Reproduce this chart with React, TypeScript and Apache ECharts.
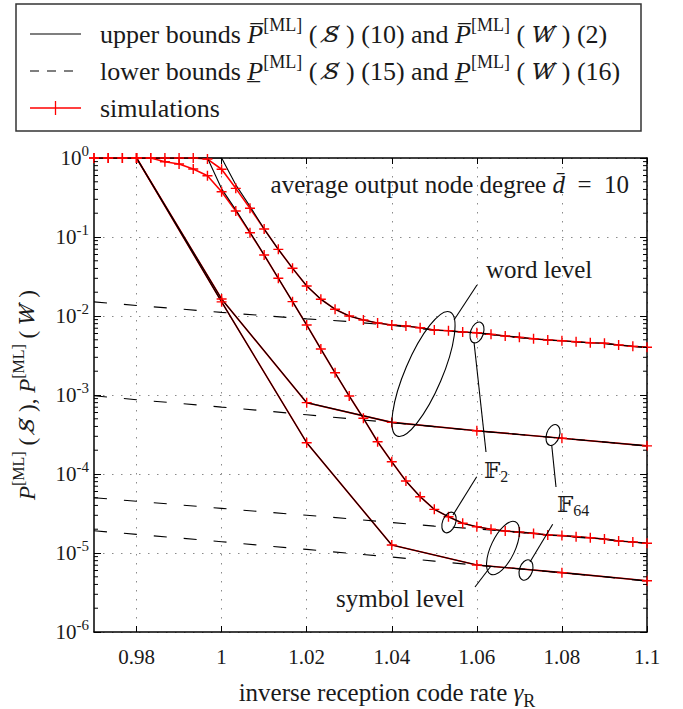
import React, { useEffect, useRef } from "react";
import * as echarts from "echarts";

// ---------------- data ----------------
const X_MIN = 0.97;
const X_MAX = 1.1;
const X_TICKS = [0.98, 1, 1.02, 1.04, 1.06, 1.08, 1.1];
const Y_MIN = 1e-6;
const Y_MAX = 1;

// GF(2): fine grid of inverse reception code rates
const F2_X = [
  0.97, 0.97333, 0.97667, 0.98, 0.98333, 0.98667, 0.99, 0.99333, 0.99667, 1.0,
  1.00333, 1.00667, 1.01, 1.01333, 1.01667, 1.02, 1.02333, 1.02667, 1.03, 1.03333,
  1.03667, 1.04, 1.04333, 1.04667, 1.05, 1.05333, 1.05667, 1.06, 1.06333, 1.06667,
  1.07, 1.07333, 1.07667, 1.08, 1.08333, 1.08667, 1.09, 1.09333, 1.09667, 1.1,
];
const F2_WORD_SIM = [
  1, 1, 1, 1, 1, 1, 1, 1, 0.97, 0.72,
  0.413, 0.231, 0.126, 0.0698, 0.0402, 0.024, 0.0163, 0.0122, 0.01, 0.00889,
  0.00815, 0.00769, 0.00746, 0.00711, 0.00665, 0.00652, 0.00627, 0.00615, 0.00586, 0.00558,
  0.00537, 0.00516, 0.00497, 0.00486, 0.00473, 0.00459, 0.00451, 0.0043, 0.00413, 0.00402,
];
const F2_WORD_UB = [
  1, 1, 1, 1, 1, 1, 1, 1, 1, 1,
  0.457, 0.245, 0.126, 0.0698, 0.0402, 0.024, 0.0163, 0.0122, 0.01, 0.00889,
  0.00815, 0.00769, 0.00746, 0.00711, 0.00665, 0.00652, 0.00627, 0.00615, 0.00586, 0.00558,
  0.00537, 0.00516, 0.00497, 0.00486, 0.00473, 0.00459, 0.00451, 0.0043, 0.00413, 0.00402,
];
const F2_SYM_SIM = [
  1, 1, 1, 1, 1, 0.897, 0.839, 0.726, 0.596, 0.374,
  0.213, 0.113, 0.0592, 0.03, 0.0152, 0.0077, 0.00382, 0.00191, 9.7e-4, 5.07e-4,
  2.56e-4, 1.43e-4, 8.15e-5, 5.16e-5, 3.57e-5, 2.88e-5, 2.38e-5, 2.15e-5, 2.0e-5, 1.9e-5,
  1.84e-5, 1.77e-5, 1.69e-5, 1.66e-5, 1.61e-5, 1.56e-5, 1.5e-5, 1.42e-5, 1.38e-5, 1.33e-5,
];
const F2_SYM_UB = [
  1, 1, 1, 1, 1, 1, 1, 1, 1, 0.407,
  0.221, 0.115, 0.0592, 0.03, 0.0152, 0.0077, 0.00382, 0.00191, 9.7e-4, 5.07e-4,
  2.56e-4, 1.43e-4, 8.15e-5, 5.16e-5, 3.57e-5, 2.88e-5, 2.38e-5, 2.15e-5, 2.0e-5, 1.9e-5,
  1.84e-5, 1.77e-5, 1.69e-5, 1.66e-5, 1.61e-5, 1.56e-5, 1.5e-5, 1.42e-5, 1.38e-5, 1.33e-5,
];

// GF(64): coarse grid
const F64_X = [0.98, 1.0, 1.02, 1.04, 1.06, 1.08, 1.1];
const F64_WORD = [1, 0.0164, 8.0e-4, 4.5e-4, 3.53e-4, 2.84e-4, 2.27e-4];
const F64_SYM = [1, 0.0151, 2.49e-4, 1.26e-5, 7.05e-6, 5.64e-6, 4.46e-6];

// lower bounds
const LB_X = [0.97, 0.98, 0.99, 1.0, 1.01, 1.02, 1.03, 1.04, 1.05, 1.06, 1.07, 1.08, 1.09, 1.1];
const LB_F2_WORD = [1.51e-2, 1.36e-2, 1.23e-2, 1.11e-2, 1.01e-2, 9.2e-3, 8.5e-3, 7.6e-3, 6.6e-3, 6.1e-3, 5.33e-3, 4.83e-3, 4.47e-3, 3.98e-3];
const LB_F64_WORD = [9.77e-4, 8.71e-4, 7.85e-4, 7.03e-4, 6.31e-4, 5.62e-4, 5.01e-4, 4.47e-4, 3.98e-4, 3.51e-4, 3.16e-4, 2.83e-4, 2.54e-4, 2.26e-4];
const LB_F2_SYM = [5.01e-5, 4.52e-5, 4.07e-5, 3.67e-5, 3.31e-5, 3.0e-5, 2.72e-5, 2.43e-5, 2.19e-5, 2.02e-5, 1.82e-5, 1.64e-5, 1.49e-5, 1.32e-5];
const LB_F64_SYM = [1.91e-5, 1.72e-5, 1.55e-5, 1.39e-5, 1.24e-5, 1.11e-5, 9.9e-6, 8.9e-6, 7.9e-6, 7.0e-6, 6.3e-6, 5.6e-6, 5.0e-6, 4.4e-6];

const MINOR_MANTISSAS = [2, 3, 4, 5, 6, 7, 8, 9];
const DECADES = [-6, -5, -4, -3, -2, -1];

// ---------------- styling ----------------
const SERIF = "Liberation Serif";
const DJ = "DejaVu Serif";
const TXT = "#1a1a1a";
const RED = "#ff0000";
const PLUS = "path://M0,5L10,5M5,0L5,10";

const zip = (xs: number[], ys: number[]) => xs.map((x, i) => [x, ys[i]]);

const tok = (fs: number, italic: boolean, va: string, lh: number, fam = SERIF) => ({
  fontSize: fs,
  fontFamily: fam,
  fontStyle: italic ? "italic" : "normal",
  fontWeight: "normal",
  fill: TXT,
  verticalAlign: va,
  lineHeight: lh,
});

const baseRich = (fs: number) => ({
  n: tok(fs, false, "middle", fs + 10),
  p: tok(fs, true, "middle", fs + 10),
  x: tok(Math.round(fs * 0.9), true, "middle", fs + 10, DJ),
  s: tok(Math.round(fs * 0.7), false, "top", fs + 10),
  u: tok(Math.round(fs * 0.7), false, "bottom", fs + 6),
  f: tok(fs, false, "middle", fs + 6, DJ),
});

function lineSeries(data: number[][], color: string, width: number, z: number, dashed = false) {
  return {
    type: "line",
    data,
    showSymbol: false,
    symbol: "none",
    silent: true,
    z,
    lineStyle: { color, width, type: dashed ? [13, 17] : "solid" },
    itemStyle: { color },
  };
}

function markerSeries(data: number[][]) {
  return {
    type: "scatter",
    data,
    symbol: PLUS,
    symbolSize: 10,
    silent: true,
    z: 5,
    itemStyle: { color: "none", borderColor: RED, borderWidth: 1.4, opacity: 1 },
  };
}

function ellipse(cx: number, cy: number, rx: number, ry: number, rot: number) {
  return {
    type: "ellipse",
    x: cx,
    y: cy,
    rotation: rot,
    shape: { cx: 0, cy: 0, rx, ry },
    style: { fill: "none", stroke: "#000", lineWidth: 1.1 },
    z: 50,
  };
}
function seg(x1: number, y1: number, x2: number, y2: number, extra: any = {}) {
  return {
    type: "line",
    shape: { x1, y1, x2, y2 },
    style: { stroke: "#000", lineWidth: 1.1, ...extra },
    z: 50,
  };
}
function label(x: number, y: number, text: string, fs: number, align = "left", rot = 0) {
  return {
    type: "text",
    x,
    y,
    rotation: rot,
    z: 60,
    style: {
      text,
      align,
      verticalAlign: "middle",
      rich: baseRich(fs),
      fontFamily: SERIF,
      fontSize: fs,
      fill: TXT,
    },
  };
}

export default function App() {
  const ref = useRef<HTMLDivElement>(null);

  useEffect(() => {
    if (!ref.current) return;
    const chart = echarts.init(ref.current, undefined, { renderer: "svg" });

    const minorTicks: number[][] = [];
    DECADES.forEach((d) => MINOR_MANTISSAS.forEach((m) => minorTicks.push([X_MIN, m * Math.pow(10, d)])));

    const xCommon = {
      type: "value",
      min: X_MIN,
      max: X_MAX,
      axisLine: { show: true, onZero: false, lineStyle: { color: "#000", width: 1.5 } },
      axisTick: { show: true, inside: true, length: 6, customValues: X_TICKS, lineStyle: { color: "#000", width: 1 } },
    };
    const yCommon = {
      type: "log",
      logBase: 10,
      min: Y_MIN,
      max: Y_MAX,
      interval: 1,
      axisLine: { show: true, onZero: false, lineStyle: { color: "#000", width: 1.5 } },
      axisTick: { show: true, inside: true, length: 7, lineStyle: { color: "#000", width: 1 } },
      minorTick: { show: false },
    };

    const option: any = {
      animation: false,
      backgroundColor: "#fff",
      textStyle: { fontFamily: SERIF },
      grid: { left: 94, top: 158, width: 553, height: 474, containLabel: false },
      xAxis: [
        {
          ...xCommon,
          position: "bottom",
          axisLabel: {
            show: true,
            customValues: X_TICKS,
            margin: 14,
            fontFamily: SERIF,
            fontSize: 21,
            color: TXT,
            formatter: (v: number) => String(Number(v.toFixed(2))),
          },
          splitLine: { show: true, lineStyle: { color: "#8a8a8a", width: 1, type: [1.5, 7.5] } },
        },
        {
          ...xCommon,
          position: "top",
          axisLabel: { show: false },
          splitLine: { show: false },
        },
      ],
      yAxis: [
        {
          ...yCommon,
          position: "left",
          axisLabel: {
            show: true,
            margin: 5,
            formatter: (v: number) => `{b|10}{s|${Math.round(Math.log10(v))}}`,
            rich: {
              b: { fontFamily: SERIF, fontSize: 21, color: TXT, lineHeight: 30, verticalAlign: "middle" },
              s: { fontFamily: SERIF, fontSize: 15, color: TXT, lineHeight: 30, verticalAlign: "top" },
            },
          },
          splitLine: { show: true, lineStyle: { color: "#8a8a8a", width: 1, type: [1.5, 7.5] } },
        },
        {
          ...yCommon,
          position: "right",
          axisLabel: { show: false },
          splitLine: { show: false },
        },
      ],
      series: [
        // simulations (red lines underneath)
        lineSeries(zip(F2_X, F2_WORD_SIM), RED, 1.6, 2),
        lineSeries(zip(F2_X, F2_SYM_SIM), RED, 1.6, 2),
        lineSeries(zip(F64_X, F64_WORD), RED, 1.6, 2),
        lineSeries(zip(F64_X, F64_SYM), RED, 1.6, 2),
        // upper bounds
        lineSeries(zip(F2_X, F2_WORD_UB), "#000", 1.1, 3),
        lineSeries(zip(F2_X, F2_SYM_UB), "#000", 1.1, 3),
        lineSeries(zip(F64_X, F64_WORD), "#000", 1.1, 3),
        lineSeries(zip(F64_X, F64_SYM), "#000", 1.1, 3),
        // lower bounds
        lineSeries(zip(LB_X, LB_F2_WORD), "#000", 1.1, 3, true),
        lineSeries(zip(LB_X, LB_F64_WORD), "#000", 1.1, 3, true),
        lineSeries(zip(LB_X, LB_F2_SYM), "#000", 1.1, 3, true),
        lineSeries(zip(LB_X, LB_F64_SYM), "#000", 1.1, 3, true),
        // markers
        markerSeries(zip(F2_X, F2_WORD_SIM)),
        markerSeries(zip(F2_X, F2_SYM_SIM)),
        markerSeries(zip(F64_X, F64_WORD)),
        markerSeries(zip(F64_X, F64_SYM)),
        // minor log ticks on left & right frame
        {
          type: "custom",
          silent: true,
          clip: false,
          z: 6,
          data: minorTicks,
          renderItem: (params: any, api: any) => {
            const y = api.value(1);
            const a = api.coord([X_MIN, y]);
            const b = api.coord([X_MAX, y]);
            return {
              type: "group",
              children: [
                { type: "line", shape: { x1: a[0], y1: a[1], x2: a[0] + 4, y2: a[1] }, style: { stroke: "#000", lineWidth: 1 } },
                { type: "line", shape: { x1: b[0] - 4, y1: b[1], x2: b[0], y2: b[1] }, style: { stroke: "#000", lineWidth: 1 } },
              ],
            };
          },
        },
      ],
      graphic: [
        // legend box
        {
          type: "rect",
          shape: { x: 16, y: 4, width: 625, height: 127 },
          style: { fill: "#fff", stroke: "#333", lineWidth: 1.5 },
          z: 40,
        },
        seg(30, 34, 81, 34, { lineWidth: 1.1 }),
        seg(30, 71, 81, 71, { lineWidth: 1.1, lineDash: [9, 8] }),
        seg(30, 108, 81, 108, { stroke: RED, lineWidth: 1.3 }),
        seg(55.5, 101, 55.5, 115, { stroke: RED, lineWidth: 1.3 }),
        label(100, 34, "{n|upper bounds }{p|P̅}{s|[ML]}{n| ( }{x|S̸}{n| ) (10) and }{p|P̅}{s|[ML]}{n| ( }{x|W̸}{n| ) (2)}", 26),
        label(100, 71, "{n|lower bounds }{p|P̲}{s|[ML]}{n| ( }{x|S̸}{n| ) (15) and }{p|P̲}{s|[ML]}{n| ( }{x|W̸}{n| ) (16)}", 26),
        label(100, 108, "{n|simulations}", 26),
        // in-plot annotations
        label(629, 184, "{n|average output node degree }{p|d̄}{n|  =  10}", 25, "right"),
        label(486, 269, "{n|word level}", 25),
        label(336, 598, "{n|symbol level}", 25),
        label(484, 470, "{f|𝔽}{u|2}", 23),
        label(557, 504, "{f|𝔽}{u|64}", 23),
        ellipse(423.5, 374, 67.5, 18.6, 1.168),
        ellipse(477, 332.5, 10.8, 6.5, 1.25),
        ellipse(553, 435, 10.8, 6.5, 1.25),
        ellipse(449, 522.5, 10.8, 6.5, 1.2),
        ellipse(503, 548, 29, 12, 1.13),
        ellipse(526, 570, 10.5, 6.5, 1.25),
        seg(454, 320, 477, 285),
        seg(474, 342, 486, 452),
        seg(551.7, 445, 556, 487),
        seg(453, 515, 476.7, 476.7),
        seg(475, 587, 491, 566),
        seg(530, 562, 552.7, 524.3),
        // axis titles
        label(387, 692, "{n|inverse reception code rate }{p|γ}{u|R}", 25, "center"),
        label(27, 395, "{p|P}{s|[ML]}{n| ( }{x|S̸}{n| ), }{p|P}{s|[ML]}{n| ( }{x|W̸}{n| )}", 23, "center", Math.PI / 2),
      ],
    };

    chart.setOption(option);
    return () => chart.dispose();
  }, []);

  return (
    <div
      ref={ref}
      style={{ position: "absolute", left: 0, top: 0, width: 683, height: 709, background: "#fff" }}
    />
  );
}
